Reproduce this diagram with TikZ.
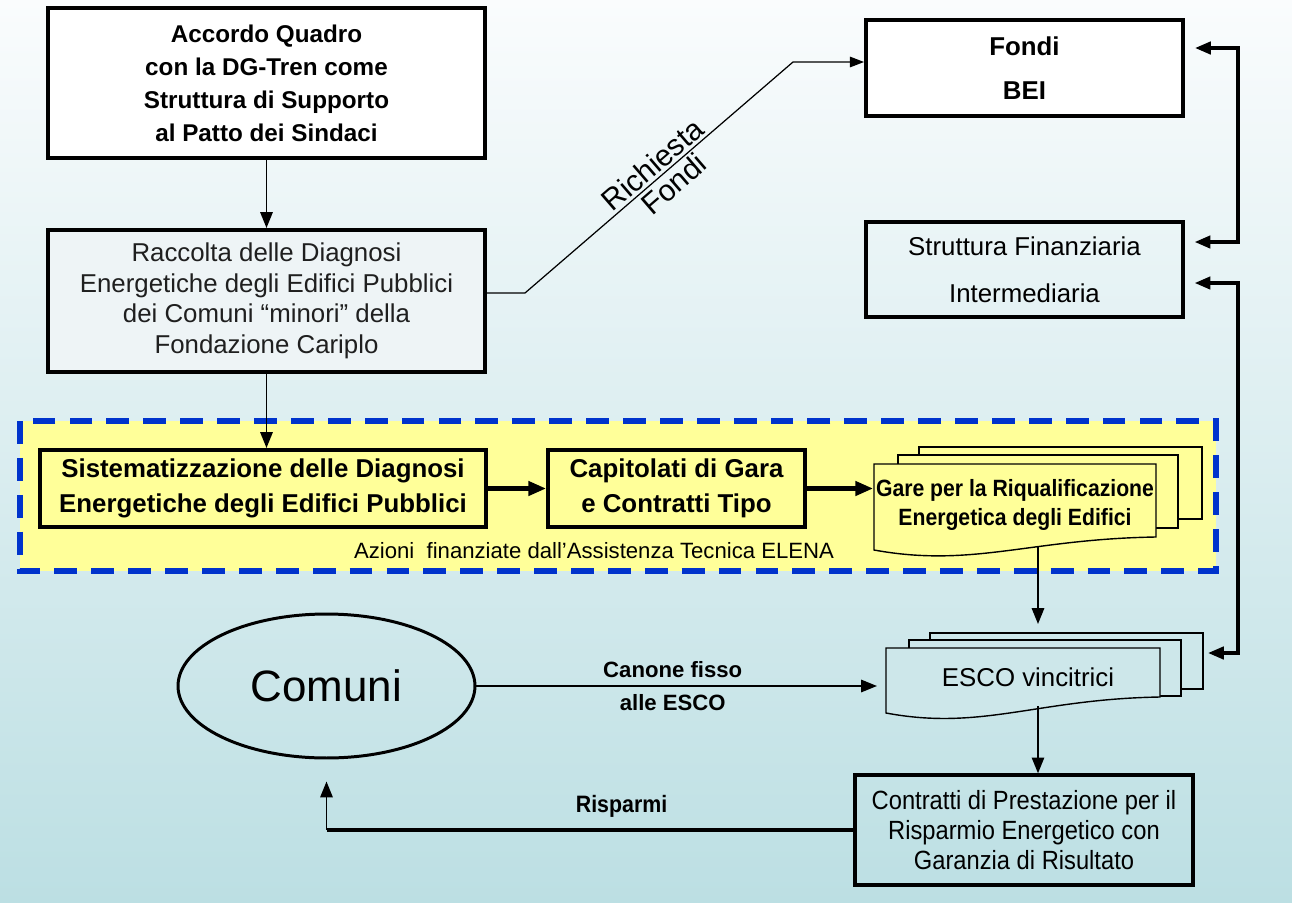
\documentclass[tikz,border=0pt]{standalone}
\usepackage{fontspec}
\setmainfont{Liberation Sans}
\newfontfamily\narrowfont[FakeStretch=0.9]{Liberation Sans}
\usetikzlibrary{arrows.meta,shapes.geometric}

\definecolor{bgtop}{RGB}{250,252,253}
\definecolor{bgbot}{RGB}{188,223,227}
\definecolor{elenafill}{RGB}{255,255,153}
\definecolor{elenablue}{RGB}{0,51,204}
\definecolor{raccoltafill}{RGB}{238,244,246}
\definecolor{escofill}{RGB}{205,231,234}

\tikzset{
  every node/.style={align=center, inner sep=0pt},
  boxthick/.style={draw, line width=2.3pt},
  boldtext/.style={font=\fontsize{14.7}{20}\selectfont\bfseries},
  doc/.style={draw, line width=0.8pt},
  arr/.style={-{Triangle[length=9pt,width=7pt]}, line width=1.1pt},
  thickarr/.style={-{Triangle[length=10pt,width=8pt]}, line width=2.3pt},
  dblarr/.style={{Triangle[length=9pt,width=7pt]}-{Triangle[length=9pt,width=7pt]}, line width=2pt},
}

\begin{document}
\begin{tikzpicture}[x=0.02cm, y=-0.02cm]
    % sfondo
    \shade[top color=bgtop, bottom color=bgbot] (0,0) rectangle (1292,903);

    % riquadro ELENA
    \draw[fill=elenafill, draw=elenablue, line width=3.5pt, dash pattern=on 13pt off 8pt] (20,421) rectangle (1216,571);
    \node (elena) at (594,551) {\fontsize{12.6}{15}\selectfont Azioni\ \ finanziate dall’Assistenza Tecnica ELENA};

    % blocchi
    \node[boxthick, fill=white, minimum width=8.74cm, minimum height=3cm,
          font=\fontsize{13.8}{18.8}\selectfont\bfseries] (accordo) at (266.5,83)
          {Accordo Quadro\\con la DG-Tren come\\Struttura di Supporto\\al Patto dei Sindaci};
    \node[boxthick, fill=raccoltafill, minimum width=8.74cm, minimum height=2.84cm, text=black!88,
          font=\fontsize{14.7}{17.4}\selectfont] (raccolta) at (266.5,301)
          {Raccolta delle Diagnosi\\Energetiche degli Edifici Pubblici\\dei Comuni “minori” della\\Fondazione Cariplo};
    \node[boxthick, fill=white, minimum width=6.34cm, minimum height=1.92cm,
          font=\fontsize{14.7}{25}\selectfont\bfseries] (fondi) at (1024.5,68) {Fondi\\BEI};
    \node[boxthick, line width=1.9pt, minimum width=6.34cm, minimum height=1.9cm,
          font=\fontsize{14.7}{27}\selectfont] (struttura) at (1024.5,269.5) {Struttura Finanziaria\\Intermediaria};

    \node[boxthick, boldtext, fill=elenafill, minimum width=8.92cm, minimum height=1.54cm] (sistem) at (263,488.5)
          {Sistematizzazione delle Diagnosi\\Energetiche degli Edifici Pubblici};
    \node[boxthick, boldtext, fill=elenafill, minimum width=5.14cm, minimum height=1.54cm] (capitolati) at (676.5,488.5)
          {Capitolati di Gara\\e Contratti Tipo};

    % documenti multipli: gare
    \filldraw[doc, fill=elenafill] (919,447) rectangle (1202,519);
    \filldraw[doc, fill=elenafill] (898,455) rectangle (1178,528);
    \filldraw[doc, fill=elenafill] (874,464) -- (1156,464) -- (1156,537) .. controls (1029,539) and (973,568) .. (874,550) -- cycle;
    \node[font=\narrowfont\fontsize{13.4}{17}\selectfont\bfseries] (gare) at (1015,505)
          {Gare per la Riqualificazione\\Energetica degli Edifici};

    % documenti multipli: ESCO
    \filldraw[doc, fill=escofill] (930,633) rectangle (1203,689);
    \filldraw[doc, fill=escofill] (909,640) rectangle (1181,696);
    \filldraw[doc, fill=escofill] (886,648) -- (1160,648) -- (1160,697) .. controls (1037,699) and (982,731) .. (886,713) -- cycle;
    \node[font=\fontsize{14.7}{17}\selectfont] (esco) at (1028,677) {ESCO vincitrici};

    \node[draw, ellipse, line width=1.7pt, minimum width=5.94cm, minimum height=2.88cm,
          font=\fontsize{25}{30}\selectfont] (comuni) at (326.5,686) {Comuni};
    \node[boxthick, line width=1.9pt, minimum width=6.76cm, minimum height=2.2cm,
          font=\narrowfont\fontsize{15}{17}\selectfont] (contratti) at (1024,830)
          {Contratti di Prestazione per il\\Risparmio Energetico con\\Garanzia di Risultato};

    % punti di aggancio
    \coordinate (k1) at (525,293);
    \coordinate (k2) at (793,62);
    \coordinate (gbot) at (1038,546);
    \coordinate (etop) at (1038,624);
    \coordinate (ebot) at (1038,706);
    \coordinate (ewest) at (877,686);
    \coordinate (gwest) at (873,0);
    \coordinate (r1) at (1238,48);
    \coordinate (r2) at (1238,242);
    \coordinate (r3) at (1238,283);
    \coordinate (r4) at (1238,653);
    \coordinate (eback) at (1203,653);
    \coordinate (rc) at (comuni.south |- contratti.west);

    % collegamenti
    \draw[arr] (accordo.south) -- (raccolta.north);
    \draw[arr] (raccolta.south) -- (raccolta.south |- sistem.north);
    \draw[thickarr] (sistem.east) -- (capitolati.west);
    \draw[thickarr] (capitolati.east) -- (capitolati.east -| gwest);
    \draw[arr] (gbot) -- (etop);
    \draw[arr] (ebot) -- (contratti.north -| ebot);

    \draw[-{Triangle[length=8pt,width=6pt]}, line width=0.7pt] (raccolta.east |- k1) -- (k1)
        -- node[sloped, above=1.5pt, pos=0.51, font=\fontsize{17}{20}\selectfont] {Richiesta}
           node[sloped, below=1.5pt, pos=0.52, font=\fontsize{17}{20}\selectfont] {Fondi} (k2)
        -- (fondi.west |- k2);

    \draw[arr] (comuni.east) -- node[pos=0.49, above=4pt, font=\fontsize{12.6}{15}\selectfont\bfseries] {Canone fisso}
        node[pos=0.49, below=4pt, font=\fontsize{12.6}{15}\selectfont\bfseries] {alle ESCO} (ewest);

    \draw[line width=2.3pt] (contratti.west) -- node[pos=0.44, above=6pt, font=\narrowfont\fontsize{13.5}{16}\selectfont\bfseries] {Risparmi} (rc);
    \draw[arr, shorten >=22*0.02cm] (rc) -- (comuni.south);

    \draw[dblarr, shorten <=10*0.02cm, shorten >=10*0.02cm] (fondi.east |- r1) -- (r1) -- (r2) -- (struttura.east |- r2);
    \draw[dblarr, shorten <=10*0.02cm, shorten >=5*0.02cm] (struttura.east |- r3) -- (r3) -- (r4) -- (eback);
\end{tikzpicture}
\end{document}
